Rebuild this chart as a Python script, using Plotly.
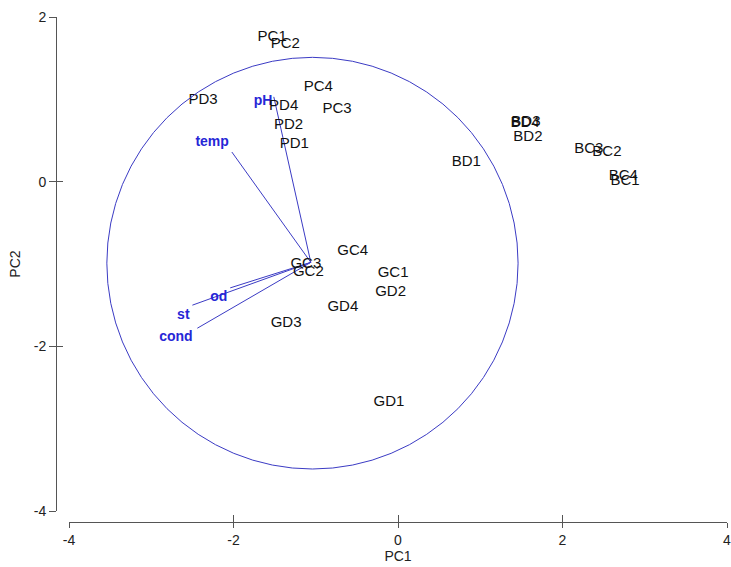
import plotly.graph_objects as go

# Sample scores (PC1, PC2)
sample_names = ["PC1", "PC2", "PC3", "PC4", "PD1", "PD2", "PD3", "PD4",
                "GC1", "GC2", "GC3", "GC4", "GD1", "GD2", "GD3", "GD4",
                "BC1", "BC2", "BC3", "BC4", "BD1", "BD2", "BD3", "BD4"]
sample_x = [-1.53, -1.37, -0.74, -0.97, -1.26, -1.33, -2.37, -1.39,
            -0.06, -1.09, -1.12, -0.55, -0.11, -0.09, -1.36, -0.67,
            2.76, 2.54, 2.32, 2.74, 0.83, 1.58, 1.555, 1.545]
sample_y = [1.75, 1.67, 0.88, 1.15, 0.46, 0.69, 0.99, 0.92,
            -1.11, -1.10, -1.00, -0.85, -2.68, -1.34, -1.72, -1.52,
            0.00, 0.36, 0.39, 0.07, 0.24, 0.54, 0.72, 0.715]

# Environmental variable vectors
var_names = ["pH", "temp", "od", "st", "cond"]
var_x = [-1.51, -2.02, -2.04, -2.50, -2.44]
var_y = [1.03, 0.36, -1.29, -1.50, -1.78]
var_label_x = [-1.64, -2.26, -2.18, -2.61, -2.70]
var_label_y = [0.97, 0.47, -1.41, -1.62, -1.89]
origin = (-1.06, -0.98)

# Equilibrium circle
circle_center = (-1.04, -0.99)
circle_radius = 2.5

x_ticks = [-4, -2, 0, 2, 4]
y_ticks = [-4, -2, 0, 2]

BLUE = "#2626d6"
LINE_BLUE = "#3b3bc4"
AXIS = "#555555"
FONT = "Liberation Sans, Arial, sans-serif"

fig = go.Figure()

# vectors
vx, vy = [], []
for x, y in zip(var_x, var_y):
    vx += [origin[0], x, None]
    vy += [origin[1], y, None]
fig.add_trace(go.Scatter(x=vx, y=vy, mode="lines",
                         line=dict(color=LINE_BLUE, width=1),
                         hoverinfo="skip", showlegend=False))

fig.add_trace(go.Scatter(x=var_label_x, y=var_label_y, text=var_names,
                         mode="text", textposition="middle center",
                         textfont=dict(family=FONT, size=14, color=BLUE, weight="bold"),
                         cliponaxis=False, showlegend=False))

fig.add_trace(go.Scatter(x=sample_x, y=sample_y, text=sample_names,
                         mode="text", textposition="middle center",
                         textfont=dict(family=FONT, size=15, color="#111111"),
                         cliponaxis=False, showlegend=False))

fig.add_shape(type="circle", xref="x", yref="y",
              x0=circle_center[0] - circle_radius, x1=circle_center[0] + circle_radius,
              y0=circle_center[1] - circle_radius, y1=circle_center[1] + circle_radius,
              line=dict(color=LINE_BLUE, width=1))

W, H = 731, 567
ml, mr, mt, mb = 56, 4, 17, 45
pw, ph = W - ml - mr, H - mt - mb

common = dict(showgrid=False, zeroline=False, showline=True, linecolor=AXIS,
              linewidth=1, ticks="outside", tickcolor=AXIS,
              ticklabeloverflow="allow",
              tickfont=dict(family=FONT, size=14, color="#222222"))

fig.update_layout(
    width=W, height=H,
    margin=dict(l=ml, r=mr, t=mt, b=mb, autoexpand=False),
    paper_bgcolor="white", plot_bgcolor="white",
    showlegend=False,
    xaxis=dict(range=[-4, 4], domain=[13 / pw, 1], anchor="free", position=0,
               tickvals=x_ticks, ticktext=[str(v) for v in x_ticks], ticklen=5,
               title=dict(text="PC1", font=dict(family=FONT, size=14, color="#222222"), standoff=2),
               **common),
    yaxis=dict(range=[-4, 2], domain=[11 / ph, 1], anchor="free", position=0,
               tickvals=y_ticks, ticktext=[str(v) for v in y_ticks], ticklen=7,
               title=dict(text="PC2", font=dict(family=FONT, size=14, color="#222222"), standoff=8),
               **common),
    xaxis2=dict(range=[-4, 4], domain=[13 / pw, 1], anchor="free", position=0,
                overlaying="x", showgrid=False, zeroline=False, showline=False,
                ticks="inside", ticklen=7, tickcolor=AXIS, tickvals=x_ticks,
                showticklabels=False),
    yaxis2=dict(range=[-4, 2], domain=[11 / ph, 1], anchor="free", position=0,
                overlaying="y", showgrid=False, zeroline=False, showline=False,
                ticks="inside", ticklen=6, tickcolor=AXIS, tickvals=y_ticks,
                showticklabels=False),
)
# invisible trace to activate the secondary (inside-tick) axes
fig.add_trace(go.Scatter(x=[None], y=[None], xaxis="x2", yaxis="y2",
                         mode="markers", showlegend=False, hoverinfo="skip"))

fig.write_html("out.html", config={"displayModeBar": False},
               post_script="document.body.style.margin='0';document.body.style.padding='0';"
                           "document.body.style.overflow='hidden';")
